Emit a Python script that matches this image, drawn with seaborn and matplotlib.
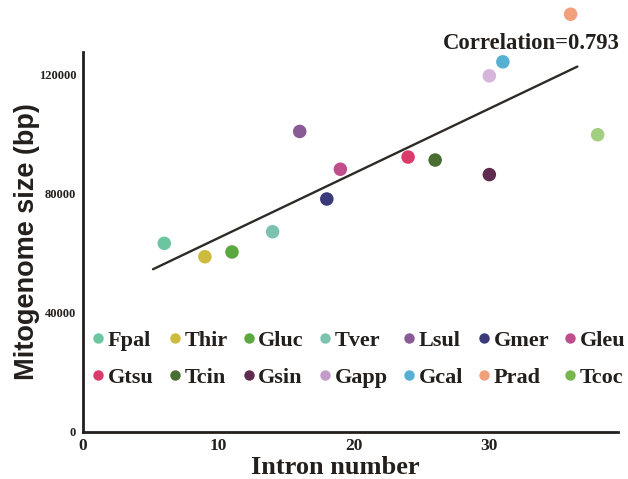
import matplotlib
matplotlib.use("Agg")
import matplotlib.pyplot as plt
from matplotlib.lines import Line2D
import seaborn as sns
import pandas as pd

species = ["Fpal", "Thir", "Gluc", "Tver", "Lsul", "Gmer", "Gleu",
           "Gtsu", "Tcin", "Gsin", "Gapp", "Gcal", "Prad", "Tcoc"]
introns = [6, 9, 11, 14, 16, 18, 19, 24, 26, 30, 30, 31, 36, 38]
sizes = [63400, 58900, 60500, 67300, 101000, 78300, 88300,
         92400, 91400, 86500, 119700, 124400, 140400, 99900]
point_colors = ["#6cc5a1", "#cdbb3e", "#5aa83e", "#7dc2b0", "#8a5a97", "#3a397a", "#c04e8d",
                "#db3b6b", "#4a6d32", "#5f2b4f", "#d6b5da", "#56b0d3", "#f2a07c", "#a2cf82"]
legend_colors = ["#6cc5a1", "#cdbb3e", "#5aa83e", "#7dc2b0", "#8a5a97", "#3a397a", "#c04e8d",
                 "#db3b6b", "#4a6d32", "#5f2b4f", "#c49cc9", "#56b0d3", "#f2a07c", "#78b54b"]
trend_x = [5.17, 36.5]
trend_y = [54700, 122800]
yticks = [0, 40000, 80000, 120000]
xticks = [0, 10, 20, 30]
corr_text = "Correlation=0.793"

df = pd.DataFrame({"species": species, "introns": introns, "size": sizes})
trend = pd.DataFrame({"x": trend_x, "y": trend_y})

sns.set_style("white")
plt.rcParams["font.family"] = ["Liberation Serif", "DejaVu Serif"]

fig = plt.figure(figsize=(6.28, 4.79), dpi=100)
ax = fig.add_axes([83 / 628, 47 / 479, 535 / 628, 380 / 479])

sns.lineplot(data=trend, x="x", y="y", ax=ax, color="#2e2a26", linewidth=1.7)
sns.scatterplot(data=df, x="introns", y="size", hue="species", hue_order=species,
                palette=dict(zip(species, point_colors)), s=95, edgecolor="none",
                ax=ax, legend=False, clip_on=False, zorder=3)

ax.set_xlim(0, 39.5)
ax.set_ylim(0, 127700)
ax.set_xticks(xticks)
ax.set_yticks(yticks)
ax.set_xticklabels([str(v) for v in xticks], fontsize=12.5, fontweight="bold", color="#231f1c")
ax.set_yticklabels([str(v) for v in yticks], fontsize=9, fontweight="bold", color="#231f1c")
ax.tick_params(axis="y", length=4, width=1, color="#777777", pad=1)
ax.tick_params(axis="x", length=3, width=1, color="#777777", pad=1)

for side in ["top", "right"]:
    ax.spines[side].set_visible(False)
for side in ["left", "bottom"]:
    ax.spines[side].set_linewidth(2)
    ax.spines[side].set_color("#231f1c")

ax.set_xlabel("Intron number", fontsize=19, fontweight="bold", color="#231f1c")
ax.xaxis.set_label_coords(0.471, -0.063)
ax.set_ylabel("Mitogenome size (bp)", fontsize=19.5, fontweight="bold",
              family=["Liberation Sans", "DejaVu Sans"], color="#231f1c")
ax.yaxis.set_label_coords(-0.08, 0.5)

ax.text(26.6, 130400, corr_text, fontsize=16.3, fontweight="bold", color="#231f1c",
        ha="left", va="center")

handles = [Line2D([0], [0], marker="o", linestyle="none", markersize=7.5,
                  markerfacecolor=c, markeredgecolor="none") for c in legend_colors]
order = []
for i in range(7):
    order += [i, i + 7]
leg = ax.legend([handles[i] for i in order], [species[i] for i in order],
                ncol=7, loc="center left", bbox_to_anchor=(0.0164, 0.192),
                frameon=False, borderpad=0.0, borderaxespad=0.0,
                handletextpad=0.13, columnspacing=0.65,
                handlelength=0.6, labelspacing=0.72,
                prop={"family": "Liberation Serif", "weight": "bold", "size": 16})
for t in leg.get_texts():
    t.set_color("#231f1c")

fig.savefig("out.png", dpi=100)
